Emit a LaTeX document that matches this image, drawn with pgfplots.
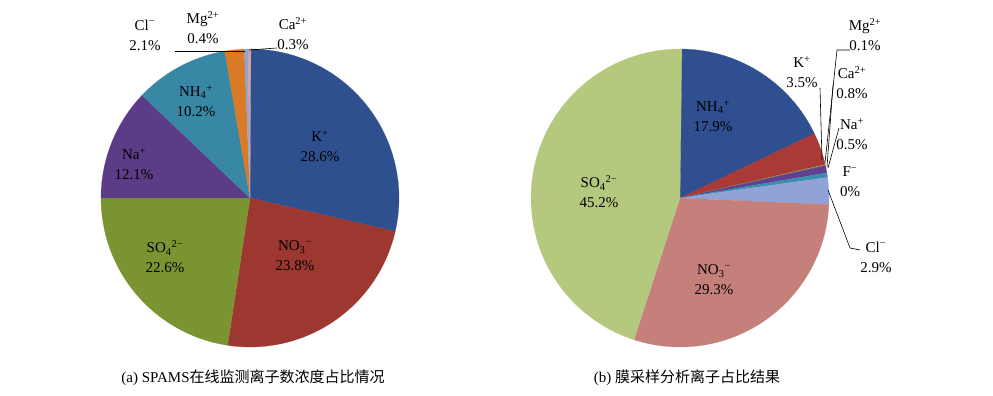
\documentclass[border=0pt]{standalone}
\usepackage{pgfplots}
\pgfplotsset{compat=1.18}
\usepackage{fontspec}
\setmainfont{Liberation Serif}
\newfontfamily\cjk{Noto Sans CJK SC}

% left pie colours
\definecolor{aK}{RGB}{47,80,143}
\definecolor{aNO}{RGB}{157,56,48}
\definecolor{aSO}{RGB}{122,148,50}
\definecolor{aNa}{RGB}{92,60,135}
\definecolor{aNH}{RGB}{56,136,165}
\definecolor{aCl}{RGB}{217,122,38}
\definecolor{aMg}{RGB}{142,165,216}
\definecolor{aCa}{RGB}{207,163,161}
% right pie colours
\definecolor{bNH}{RGB}{47,79,144}
\definecolor{bK}{RGB}{170,58,53}
\definecolor{bMg}{RGB}{138,168,70}
\definecolor{bCa}{RGB}{96,64,144}
\definecolor{bNa}{RGB}{58,144,172}
\definecolor{bCl}{RGB}{143,163,214}
\definecolor{bNO}{RGB}{198,128,124}
\definecolor{bSO}{RGB}{180,200,126}

\tikzset{lbl/.style={font=\fontsize{15}{20}\selectfont, align=center, inner sep=0pt},
  captxt/.style={font=\fontsize{15}{18}\selectfont, inner sep=0pt}}

\newcommand\pieslices[4]{% cx, cy, R, list value/colour
  \def\cum{0}%
  \pgfplotsforeachungrouped \v/\c in {#4}{%
    \pgfmathsetmacro\pa{\cum}%
    \pgfmathsetmacro\pb{\cum+\v}%
    \edef\tmp{\noexpand\addplot[fill=\c, draw=\c, line width=0.2pt,
      samples at={-1,0,1,...,100,101}]
      ({(x<0||x>100) ? #1 : #1+#3*cos(90-3.6*(\pa+x/100*(\pb-\pa)))},
       {(x<0||x>100) ? #2 : #2+#3*sin(90-3.6*(\pa+x/100*(\pb-\pa)))});}%
    \tmp
    \global\let\cum\pb
  }%
}

\begin{document}
\begin{tikzpicture}
\begin{axis}[scale only axis, width=993pt, height=396pt,
  xmin=0, xmax=993, ymin=0, ymax=396, hide axis, clip=false]
\addplot[draw=none] coordinates {(0,0) (993,396)};

% (a) SPAMS: K, NO3, SO4, Na, NH4, Cl, Mg, Ca
\pieslices{250}{198}{149}{28.6/aK, 23.8/aNO, 22.6/aSO, 12.1/aNa, 10.2/aNH, 2.1/aCl, 0.4/aMg, 0.3/aCa}

% (b) membrane: NH4, K, Mg, Ca, Na, F(0), Cl, NO3, SO4
\pieslices{680}{198}{149}{17.9/bNH, 3.5/bK, 0.1/bMg, 0.8/bCa, 0.5/bNa, 2.9/bCl, 29.3/bNO, 45.2/bSO}

% leader lines (a)
\addplot[black, line width=0.6pt] coordinates {(175,345) (245,345)};
\addplot[black, line width=0.6pt] coordinates {(249,346) (277,348)};
% leader lines (b)
\addplot[black, line width=0.6pt] coordinates {(820,308) (822,236)};
\addplot[black, line width=0.6pt] coordinates {(850,346) (837,346) (825,233)};
\addplot[black, line width=0.6pt] coordinates {(833,311) (827,229)};
\addplot[black, line width=0.6pt] coordinates {(839,268) (828,228)};
\addplot[black, line width=0.6pt] coordinates {(828,206) (850,148) (860,146)};

% labels (a)
\node[lbl] at (axis cs:320,250) {K\textsuperscript{+}\\28.6\%};
\node[lbl] at (axis cs:295,140) {NO\textsubscript{3}\textsuperscript{−}\\23.8\%};
\node[lbl] at (axis cs:165,139) {SO\textsubscript{4}\textsuperscript{2−}\\22.6\%};
\node[lbl] at (axis cs:134,232) {Na\textsuperscript{+}\\12.1\%};
\node[lbl] at (axis cs:196,295) {NH\textsubscript{4}\textsuperscript{+}\\10.2\%};
\node[lbl] at (axis cs:145,361) {Cl\textsuperscript{−}\\2.1\%};
\node[lbl] at (axis cs:203,368) {Mg\textsuperscript{2+}\\0.4\%};
\node[lbl] at (axis cs:293,362) {Ca\textsuperscript{2+}\\0.3\%};

% labels (b)
\node[lbl] at (axis cs:713,280) {NH\textsubscript{4}\textsuperscript{+}\\17.9\%};
\node[lbl] at (axis cs:802,324) {K\textsuperscript{+}\\3.5\%};
\node[lbl] at (axis cs:865,361) {Mg\textsuperscript{2+}\\0.1\%};
\node[lbl] at (axis cs:852,313) {Ca\textsuperscript{2+}\\0.8\%};
\node[lbl] at (axis cs:852,262) {Na\textsuperscript{+}\\0.5\%};
\node[lbl] at (axis cs:850,214) {F\textsuperscript{−}\\0\%};
\node[lbl] at (axis cs:876,139) {Cl\textsuperscript{−}\\2.9\%};
\node[lbl] at (axis cs:714,116) {NO\textsubscript{3}\textsuperscript{−}\\29.3\%};
\node[lbl] at (axis cs:599,204) {SO\textsubscript{4}\textsuperscript{2−}\\45.2\%};

% captions
\node[captxt] at (axis cs:253,18) {(a) SPAMS{\cjk 在线监测离子数浓度占比情况}};
\node[captxt] at (axis cs:687,18) {(b) {\cjk 膜采样分析离子占比结果}};
\end{axis}
\end{tikzpicture}
\end{document}
